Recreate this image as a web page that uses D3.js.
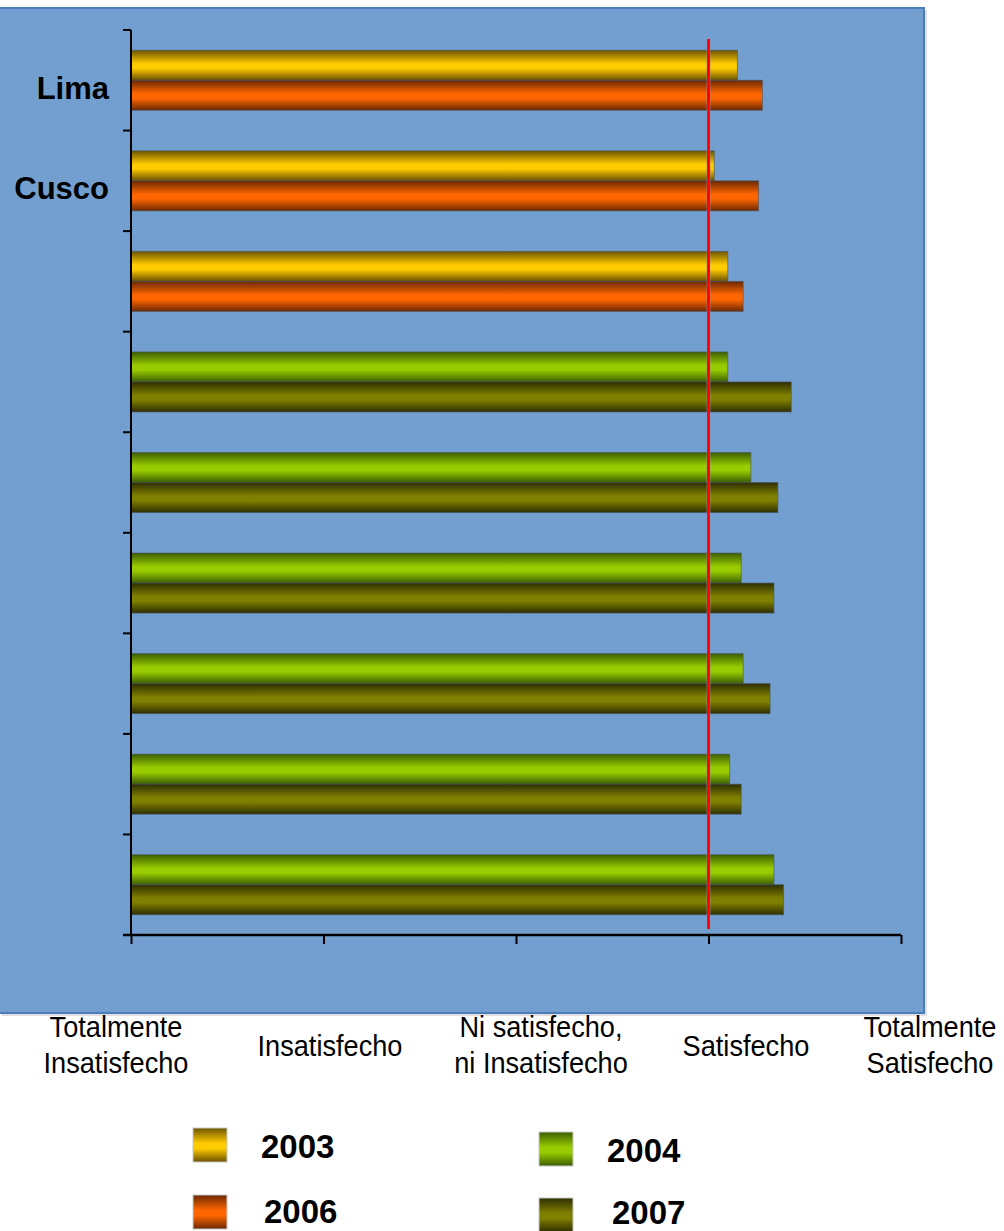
<!DOCTYPE html>
<html>
<head>
<meta charset="utf-8">
<script src="https://cdn.jsdelivr.net/npm/d3@7/dist/d3.min.js"></script>
<style>
  html, body { margin: 0; padding: 0; background: #ffffff; }
  svg { display: block; }
</style>
</head>
<body>
<script>
// Satisfaction scale (1 = Totalmente Insatisfecho … 5 = Totalmente Satisfecho)
const categories = ["Lima", "Cusco", "", "", "", "", "", "", ""];
const v2003 = [4.15, 4.03, 4.10, null, null, null, null, null, null];
const v2006 = [4.28, 4.26, 4.18, null, null, null, null, null, null];
const v2004 = [null, null, null, 4.10, 4.22, 4.17, 4.18, 4.11, 4.34];
const v2007 = [null, null, null, 4.43, 4.36, 4.34, 4.32, 4.17, 4.39];
const seriesNames = ["2003", "2006", "2004", "2007"];
const scaleTicks = [1, 2, 3, 4, 5];
const scaleLabels = [
  ["Totalmente", "Insatisfecho"],
  ["Insatisfecho"],
  ["Ni satisfecho,", "ni Insatisfecho"],
  ["Satisfecho"],
  ["Totalmente", "Satisfecho"]
];
const referenceValue = 4;

const W = 1004, H = 1231;
const svg = d3.select("body").append("svg").attr("width", W).attr("height", H);

// Cylinder-like vertical gradients for each series
const palette = {
  "2003": ["#6e5500", "#ffcc00", "#6b5000"],
  "2006": ["#6b2800", "#ff6600", "#6b2800"],
  "2004": ["#3d5e00", "#99cc00", "#3d5e00"],
  "2007": ["#2e2e00", "#808000", "#2e2e00"]
};
const defs = svg.append("defs");
seriesNames.forEach(name => {
  const g = defs.append("linearGradient")
    .attr("id", "grad" + name)
    .attr("x1", 0).attr("y1", 0).attr("x2", 0).attr("y2", 1);
  const c = palette[name];
  g.append("stop").attr("offset", "0%").attr("stop-color", c[0]);
  g.append("stop").attr("offset", "45%").attr("stop-color", c[1]);
  g.append("stop").attr("offset", "60%").attr("stop-color", c[1]);
  g.append("stop").attr("offset", "100%").attr("stop-color", c[2]);
});

// Plot background panel
svg.append("rect").attr("x", 2).attr("y", 10).attr("width", 925).attr("height", 1006)
  .attr("fill", "#e0e0e0");
svg.append("rect").attr("x", -2).attr("y", 8).attr("width", 926).attr("height", 1005)
  .attr("fill", "#729fcf").attr("stroke", "#4a7ebb").attr("stroke-width", 2);

// Scales
const x = d3.scaleLinear().domain([1, 5]).range([131, 901]);
const y = d3.scaleBand().domain(d3.range(categories.length))
  .range([30, 935]).paddingInner(0.403).paddingOuter(0.2015);
const slot = d3.scaleBand().domain([0, 1]).range([0, y.bandwidth()]);

const series = [
  { name: "2003", values: v2003, slot: 0 },
  { name: "2006", values: v2006, slot: 1 },
  { name: "2004", values: v2004, slot: 0 },
  { name: "2007", values: v2007, slot: 1 }
];

// Bars
const barLayer = svg.append("g");
series.forEach(s => {
  const rows = s.values.map((v, i) => ({ v, i })).filter(d => d.v != null);
  barLayer.selectAll(null).data(rows).enter().append("rect")
    .attr("x", x(1))
    .attr("y", d => y(d.i) + slot(s.slot))
    .attr("width", d => x(d.v) - x(1))
    .attr("height", slot.bandwidth())
    .attr("fill", "url(#grad" + s.name + ")")
    .attr("stroke", "#4a5560").attr("stroke-opacity", 0.6).attr("stroke-width", 1);
});

// Reference line at "Satisfecho"
svg.append("line")
  .attr("x1", x(referenceValue)).attr("x2", x(referenceValue))
  .attr("y1", 39).attr("y2", 929)
  .attr("stroke", "#9a8fb8").attr("stroke-width", 3.6);
svg.append("line")
  .attr("x1", x(referenceValue)).attr("x2", x(referenceValue))
  .attr("y1", 39).attr("y2", 929)
  .attr("stroke", "#ff0000").attr("stroke-width", 2.8);

// Category axis: boundaries between groups
const yAxis = svg.append("g").attr("stroke", "#000");
yAxis.append("line").attr("x1", x(1)).attr("x2", x(1)).attr("y1", 30).attr("y2", 935)
  .attr("stroke-width", 2);
const bounds = d3.range(categories.length + 1).map(i => 30 + i * y.step());
yAxis.selectAll(null).data(bounds).enter().append("line")
  .attr("x1", x(1) - 8).attr("x2", x(1)).attr("y1", d => d).attr("y2", d => d)
  .attr("stroke-width", 2);

svg.append("g").selectAll("text").data(categories).enter().append("text")
  .attr("x", 109)
  .attr("y", (d, i) => y(i) + y.bandwidth() / 2 + 18.5)
  .attr("text-anchor", "end")
  .attr("font-family", "'Liberation Sans', Arial, sans-serif")
  .attr("font-weight", "bold").attr("font-size", 31)
  .attr("fill", "#000")
  .text(d => d);

// Value axis
const xAxis = svg.append("g").attr("transform", "translate(0,935)");
xAxis.call(d3.axisBottom(x).tickValues(scaleTicks).tickSize(9).tickFormat(""));
xAxis.select(".domain").attr("d", `M${x(1) - 8},0H${x(5)}`)
  .attr("stroke", "#000").attr("stroke-width", 2.5);
xAxis.selectAll(".tick line").attr("stroke", "#000").attr("stroke-width", 2);

// Scale labels below the panel
const labelX = d3.scaleLinear().domain([0, 1, 2, 3, 4]).range([116, 330, 541, 746, 930]);
const lbl = svg.append("g")
  .attr("font-family", "'Liberation Sans', Arial, sans-serif")
  .attr("font-size", 28).attr("fill", "#000").attr("text-anchor", "middle");
scaleLabels.forEach((lines, i) => {
  lines.forEach((ln, k) => {
    const base = lines.length === 1 ? 1056 : 1037 + k * 36;
    lbl.append("text")
      .attr("transform", `translate(${labelX(i)},${base}) scale(0.97,1.08)`)
      .text(ln);
  });
});

// Legend
const legendPos = {
  "2003": { sx: 193, sy: 1128, tx: 261, ty: 1158 },
  "2006": { sx: 193, sy: 1195, tx: 264, ty: 1223 },
  "2004": { sx: 539, sy: 1132, tx: 607, ty: 1162 },
  "2007": { sx: 539, sy: 1198, tx: 612, ty: 1224 }
};
const legend = svg.append("g");
seriesNames.forEach(name => {
  const p = legendPos[name];
  legend.append("rect").attr("x", p.sx).attr("y", p.sy).attr("width", 34).attr("height", 34)
    .attr("fill", "url(#grad" + name + ")")
    .attr("stroke", "#c8c8c8").attr("stroke-width", 1);
  legend.append("text")
    .attr("x", p.tx).attr("y", p.ty)
    .attr("font-family", "'Liberation Sans', Arial, sans-serif")
    .attr("font-weight", "bold").attr("font-size", 33).attr("fill", "#000")
    .text(name);
});
</script>
</body>
</html>
